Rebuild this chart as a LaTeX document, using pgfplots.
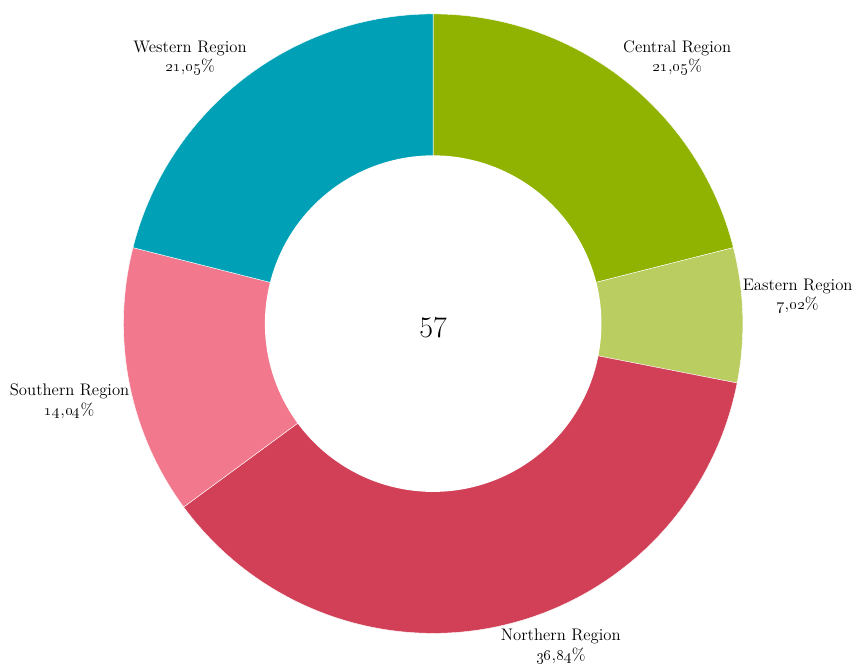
\documentclass[border=0pt]{standalone}
\usepackage{pgfplots}
\usepackage{pgfplotstable}
\pgfplotsset{compat=1.18}
\definecolor{cCentral}{RGB}{143,179,0}
\definecolor{cEastern}{RGB}{185,205,96}
\definecolor{cNorthern}{RGB}{209,64,86}
\definecolor{cSouthern}{RGB}{242,121,141}
\definecolor{cWestern}{RGB}{0,161,182}
\pgfplotstableread{
region value
Central 12
Eastern 4
Northern 21
Southern 8
Western 12
}\datatable
\begin{document}
\begin{tikzpicture}
\pgfplotstablegetelem{0}{value}\of\datatable \let\vA\pgfplotsretval
\pgfplotstablegetelem{1}{value}\of\datatable \let\vB\pgfplotsretval
\pgfplotstablegetelem{2}{value}\of\datatable \let\vC\pgfplotsretval
\pgfplotstablegetelem{3}{value}\of\datatable \let\vD\pgfplotsretval
\pgfplotstablegetelem{4}{value}\of\datatable \let\vE\pgfplotsretval
\pgfmathsetmacro\tot{\vA+\vB+\vC+\vD+\vE}
\pgfmathsetmacro\aA{90}
\pgfmathsetmacro\aB{\aA-360*\vA/\tot}
\pgfmathsetmacro\aC{\aB-360*\vB/\tot}
\pgfmathsetmacro\aD{\aC-360*\vC/\tot}
\pgfmathsetmacro\aE{\aD-360*\vD/\tot}
\pgfmathsetmacro\aF{\aE-360*\vE/\tot}
\begin{axis}[
  width=642.75pt, height=499.5pt, scale only axis,
  xmin=-1.3987, xmax=1.3569, ymin=-1.0965, ymax=1.0450,
  hide axis, clip=false,
]
\path (rel axis cs:0,0) rectangle (rel axis cs:1,1);
\addplot[fill=cCentral, draw=white, line width=0.3pt, domain=\aB:\aA, samples=80, variable=\t] ({cos(\t)},{sin(\t)}) -- (axis cs:0,0) -- cycle;
\addplot[fill=cEastern, draw=white, line width=0.3pt, domain=\aC:\aB, samples=40, variable=\t] ({cos(\t)},{sin(\t)}) -- (axis cs:0,0) -- cycle;
\addplot[fill=cNorthern, draw=white, line width=0.3pt, domain=\aD:\aC, samples=120, variable=\t] ({cos(\t)},{sin(\t)}) -- (axis cs:0,0) -- cycle;
\addplot[fill=cSouthern, draw=white, line width=0.3pt, domain=\aE:\aD, samples=60, variable=\t] ({cos(\t)},{sin(\t)}) -- (axis cs:0,0) -- cycle;
\addplot[fill=cWestern, draw=white, line width=0.3pt, domain=\aF:\aE, samples=80, variable=\t] ({cos(\t)},{sin(\t)}) -- (axis cs:0,0) -- cycle;
\addplot[fill=white, draw=none, domain=0:360, samples=180, variable=\t] ({0.5434*cos(\t)},{0.5434*sin(\t)}) -- cycle;
\node[font=\fontsize{22.5}{26}\selectfont, text=black] at (axis cs:0,-0.013) {57};
\tikzset{lbl/.style={align=center, font=\fontsize{12.6}{14.6}\selectfont, text=black}}
\node[lbl] at (axis cs:0.788,0.859) {Central Region\\\oldstylenums{21},\oldstylenums{05}\%};
\node[lbl] at (axis cs:1.177,0.090) {Eastern Region\\\oldstylenums{7},\oldstylenums{02}\%};
\node[lbl] at (axis cs:0.412,-1.042) {Northern Region\\\oldstylenums{36},\oldstylenums{84}\%};
\node[lbl] at (axis cs:-1.174,-0.251) {Southern Region\\\oldstylenums{14},\oldstylenums{04}\%};
\node[lbl] at (axis cs:-0.785,0.859) {Western Region\\\oldstylenums{21},\oldstylenums{05}\%};
\end{axis}
\end{tikzpicture}
\end{document}
